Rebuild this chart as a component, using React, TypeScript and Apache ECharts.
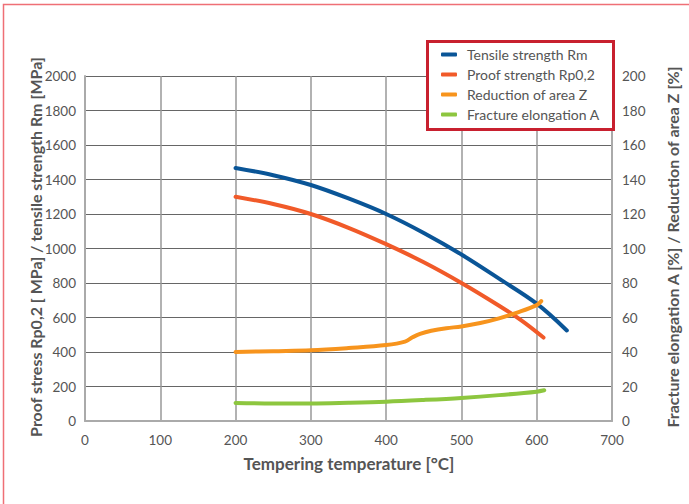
import React, { useEffect, useRef } from "react";
import * as echarts from "echarts";

const rmTemp = [200, 250, 300, 350, 400, 450, 500, 550, 600, 640];
const rmValues = [1467, 1425, 1368, 1290, 1200, 1090, 965, 825, 680, 525];

const rpTemp = [200, 250, 300, 350, 400, 450, 500, 550, 580, 609];
const rpValues = [1300, 1258, 1200, 1120, 1025, 920, 800, 668, 582, 484];

const zTemp = [200, 250, 300, 350, 400, 425, 435, 445, 460, 480, 500, 525, 550, 575, 600, 606];
const zValues = [40, 40.5, 41, 42.3, 44, 46, 48.5, 50.5, 52.3, 53.8, 54.8, 56.8, 59.5, 63, 67.2, 69.5];

const aTemp = [200, 250, 300, 350, 400, 450, 500, 550, 600, 610];
const aValues = [10.5, 10.2, 10.2, 10.6, 11.2, 12.2, 13.4, 15, 17, 17.8];

const seriesNames = [
  "Tensile strength Rm",
  "Proof strength Rp0,2",
  "Reduction of area Z",
  "Fracture elongation A",
];
const colors = ["#0a5597", "#f15a29", "#f7941d", "#8dc63f"];

const pairs = (xs: number[], ys: number[]) => xs.map((x, i) => [x, ys[i]]);

const FONT = "Lato, 'Open Sans', sans-serif";
const TEXT = "#555";

export default function App() {
  const ref = useRef<HTMLDivElement>(null);
  useEffect(() => {
    const chart = echarts.init(ref.current!, null, { renderer: "svg" });
    const lineSeries = (i: number, data: number[][], yAxisIndex: number) => ({
      name: seriesNames[i],
      type: "line",
      yAxisIndex,
      data,
      smooth: 0.35,
      symbol: "none",
      lineStyle: { color: colors[i], width: 4, cap: "round" },
      itemStyle: { color: colors[i] },
      z: 5,
    });
    const label = (margin: number) => ({
      color: TEXT,
      fontSize: 13.5,
      margin,
      fontFamily: FONT,
      formatter: (v: number) => String(v),
    });
    chart.setOption({
      animation: false,
      textStyle: { fontFamily: FONT },
      grid: { left: 85, right: 77, top: 76, bottom: 83 },
      xAxis: {
        type: "value",
        min: 0,
        max: 700,
        interval: 100,
        axisLine: { show: true, lineStyle: { color: "#aaa", width: 2 } },
        axisTick: { show: false },
        axisLabel: label(12),
        splitLine: { show: true, lineStyle: { color: "#999", width: 1.5 } },
      },
      yAxis: [
        {
          type: "value",
          min: 0,
          max: 2000,
          interval: 200,
          axisLine: { show: true, lineStyle: { color: "#aaa", width: 2 } },
          axisTick: { show: false },
          axisLabel: label(9),
          splitLine: { show: true, lineStyle: { color: "#666", width: 1 } },
        },
        {
          type: "value",
          position: "right",
          min: 0,
          max: 200,
          interval: 20,
          axisLine: { show: true, lineStyle: { color: "#aaa", width: 2 } },
          axisTick: { show: false },
          axisLabel: label(10),
          splitLine: { show: false },
        },
      ],
      legend: {
        left: 441,
        top: 47,
        orient: "vertical",
        data: seriesNames,
        icon: "roundRect",
        itemWidth: 16,
        itemHeight: 4,
        itemGap: 5,
        padding: 0,
        textStyle: { color: TEXT, fontSize: 14, lineHeight: 15, fontFamily: FONT, padding: [0, 0, 0, 5] },
        z: 10,
      },
      graphic: [
        {
          type: "rect",
          shape: { x: 3.5, y: 4.5, width: 720, height: 540 },
          style: { fill: "none", stroke: "#ef6f76", lineWidth: 1.5 },
          silent: true,
        },
        {
          type: "rect",
          shape: { x: 427.5, y: 41.5, width: 186, height: 88 },
          style: { fill: "#fff", stroke: "#c8202f", lineWidth: 3 },
          z: 4,
          silent: true,
        },
        {
          type: "text",
          x: 35,
          y: 247,
          rotation: Math.PI / 2,
          style: {
            text: "Proof stress Rp0,2 [ MPa] / tensile strength Rm [MPa]",
            fill: TEXT,
            font: `bold 16px ${FONT}`,
            textAlign: "center",
            textVerticalAlign: "middle",
          },
        },
        {
          type: "text",
          x: 672,
          y: 247,
          rotation: Math.PI / 2,
          style: {
            text: "Fracture elongation A [%] / Reduction of area Z [%]",
            fill: TEXT,
            font: `bold 16px ${FONT}`,
            textAlign: "center",
            textVerticalAlign: "middle",
          },
        },
        {
          type: "text",
          x: 349,
          y: 463,
          style: {
            text: "Tempering temperature [°C]",
            fill: TEXT,
            font: `bold 17px ${FONT}`,
            textAlign: "center",
            textVerticalAlign: "middle",
          },
        },
      ],
      series: [
        lineSeries(0, pairs(rmTemp, rmValues), 0),
        lineSeries(1, pairs(rpTemp, rpValues), 0),
        lineSeries(2, pairs(zTemp, zValues), 1),
        lineSeries(3, pairs(aTemp, aValues), 1),
      ],
    });
    return () => chart.dispose();
  }, []);
  return (
    <div
      ref={ref}
      style={{ position: "absolute", left: 0, top: 0, width: 689, height: 504, background: "#fff" }}
    />
  );
}
